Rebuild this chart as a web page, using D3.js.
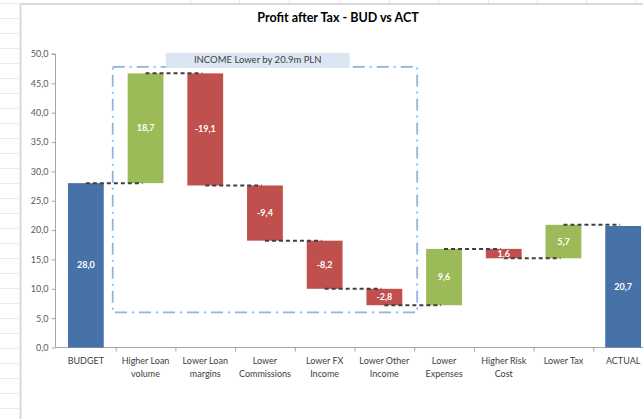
<!DOCTYPE html>
<html>
<head>
<meta charset="utf-8">
<script src="https://cdn.jsdelivr.net/npm/d3@7"></script>
<style>
  html, body { margin: 0; padding: 0; background: #ffffff; }
  svg { display: block; }
</style>
</head>
<body>
<svg id="chart" width="643" height="419"></svg>
<script>
// ---- data ----
const title = "Profit after Tax - BUD vs ACT";
const categories = ["BUDGET", "Higher Loan volume", "Lower Loan margins", "Lower Commissions",
  "Lower FX Income", "Lower Other Income", "Lower Expenses", "Higher Risk Cost", "Lower Tax", "ACTUAL"];
const categoryLines = [["BUDGET"], ["Higher Loan", "volume"], ["Lower Loan", "margins"], ["Lower", "Commissions"],
  ["Lower FX", "Income"], ["Lower Other", "Income"], ["Lower", "Expenses"], ["Higher Risk", "Cost"], ["Lower Tax"], ["ACTUAL"]];
const values = [28.0, 18.7, -19.1, -9.4, -8.2, -2.8, 9.6, -1.6, 5.7, 20.7];
const kinds = ["total", "delta", "delta", "delta", "delta", "delta", "delta", "delta", "delta", "total"];
const valueLabels = ["28,0", "18,7", "-19,1", "-9,4", "-8,2", "-2,8", "9,6", "1,6", "5,7", "20,7"];
const yTicks = [0, 5, 10, 15, 20, 25, 30, 35, 40, 45, 50];
const annotationText = "INCOME Lower by 20.9m PLN";
const annotationRange = [6.0, 47.8];           // value extent of the dashed box
const annotationCats = ["Higher Loan volume", "Lower Other Income"];

const colors = { total: "#4672A8", up: "#9BBB59", down: "#C0504D" };
const font = "Lato, 'Open Sans', sans-serif";

const svg = d3.select("#chart");

// ---- spreadsheet background hints & chart area border ----
const bg = svg.append("g");
for (let yy = 3; yy < 419; yy += 15) {
  bg.append("line").attr("x1", 0).attr("x2", 19).attr("y1", yy + 0.5).attr("y2", yy + 0.5)
    .attr("stroke", "#ececec").attr("stroke-width", 1);
}
[190, 239, 289, 339, 389, 438, 488, 537, 586, 636].forEach(xx => {
  bg.append("line").attr("x1", xx + 0.5).attr("x2", xx + 0.5).attr("y1", 0).attr("y2", 3)
    .attr("stroke", "#e6e6e6");
});
bg.append("line").attr("x1", 20).attr("x2", 643).attr("y1", 4).attr("y2", 4)
  .attr("stroke", "#d9d9d9").attr("stroke-width", 2);
bg.append("line").attr("x1", 20.5).attr("x2", 20.5).attr("y1", 3).attr("y2", 419)
  .attr("stroke", "#d9d9d9").attr("stroke-width", 2);

// ---- scales ----
const x = d3.scaleBand().domain(categories).range([56, 653]).padding(0);
const y = d3.scaleLinear().domain([0, 50]).range([347.5, 54]);
const barW = x.bandwidth() * 0.6;
const cx = c => x(c) + x.bandwidth() / 2;

// ---- waterfall geometry ----
let run = 0;
const bars = categories.map((c, i) => {
  let lo, hi, type;
  if (kinds[i] === "total") {
    lo = 0; hi = values[i]; run = values[i]; type = "total";
  } else {
    const start = run; run = run + values[i];
    lo = Math.min(start, run); hi = Math.max(start, run);
    type = values[i] >= 0 ? "up" : "down";
  }
  return { c, i, lo, hi, end: run, type, label: valueLabels[i] };
});

// ---- title ----
svg.append("text").attr("x", 338).attr("y", 22).attr("text-anchor", "middle")
  .attr("font-family", font).attr("font-weight", "bold").attr("font-size", 12.5)
  .attr("fill", "#000").text(title);

// ---- y axis ----
const yAxis = d3.axisLeft(y).tickValues(yTicks).tickSize(4).tickPadding(3)
  .tickFormat(d => d3.format(".1f")(d).replace(".", ","));
const gy = svg.append("g").attr("transform", "translate(55.5,0)").call(yAxis);
gy.select(".domain").attr("stroke", "#a6a6a6").attr("d", `M-4,${y(50)}H0V${y(0)}`);
gy.selectAll(".tick line").attr("stroke", "#a6a6a6");
gy.selectAll(".tick text").attr("font-family", font).attr("font-size", 9).attr("fill", "#595959");

// ---- x axis ----
const gx = svg.append("g").attr("transform", `translate(0,${y(0)})`);
gx.append("line").attr("x1", 55).attr("x2", 643).attr("y1", 0).attr("y2", 0)
  .attr("stroke", "#a6a6a6").attr("stroke-width", 1);
gx.selectAll("line.tk").data(categories.slice(1)).join("line").attr("class", "tk")
  .attr("x1", d => x(d) + 0.5).attr("x2", d => x(d) + 0.5).attr("y1", 0).attr("y2", 4)
  .attr("stroke", "#a6a6a6");
const catText = gx.selectAll("text.cat").data(categories).join("text").attr("class", "cat")
  .attr("x", d => cx(d)).attr("y", 16).attr("text-anchor", "middle")
  .attr("font-family", font).attr("font-size", 9).attr("fill", "#404040");
catText.each(function(d, i) {
  d3.select(this).selectAll("tspan").data(categoryLines[i]).join("tspan")
    .attr("x", cx(d)).attr("dy", (t, j) => j === 0 ? 0 : 13).text(t => t);
});

// ---- bars ----
svg.append("g").selectAll("rect").data(bars).join("rect")
  .attr("x", d => cx(d.c) - barW / 2).attr("width", barW)
  .attr("y", d => y(d.hi)).attr("height", d => y(d.lo) - y(d.hi))
  .attr("fill", d => colors[d.type]);

// ---- connectors ----
const conn = svg.append("g");
bars.slice(0, -1).forEach((b, i) => {
  const lvl = y(b.end);
  conn.append("line").attr("x1", cx(b.c)).attr("x2", cx(categories[i + 1]) - 3)
    .attr("y1", lvl).attr("y2", lvl)
    .attr("stroke", "#404040").attr("stroke-width", 2).attr("stroke-dasharray", "4,3");
});

// ---- value labels ----
svg.append("g").selectAll("text").data(bars).join("text")
  .attr("x", d => cx(d.c)).attr("y", d => (y(d.hi) + y(d.lo)) / 2 + 3)
  .attr("text-anchor", "middle").attr("font-family", font).attr("font-weight", "bold")
  .attr("font-size", 9).attr("fill", "#ffffff").text(d => d.label);

// ---- annotation box ----
const bx0 = x(annotationCats[0]) - 3;
const bx1 = x(annotationCats[1]) + x.bandwidth() + 3;
const by0 = y(annotationRange[1]);
const by1 = y(annotationRange[0]);
svg.append("rect").attr("x", bx0).attr("y", by0).attr("width", bx1 - bx0).attr("height", by1 - by0)
  .attr("fill", "none").attr("stroke", "#8DB3E2").attr("stroke-width", 1.75)
  .attr("stroke-dasharray", "12,5,2,5");
const lx = bx0 + 53, lw = 184, lh = 15;
svg.append("rect").attr("x", lx).attr("y", by0 - 14).attr("width", lw).attr("height", lh)
  .attr("fill", "#DCE6F2");
svg.append("text").attr("x", lx + lw / 2).attr("y", by0 - 3.5).attr("text-anchor", "middle")
  .attr("font-family", font).attr("font-size", 9.5).attr("fill", "#404040").text(annotationText);
</script>
</body>
</html>
